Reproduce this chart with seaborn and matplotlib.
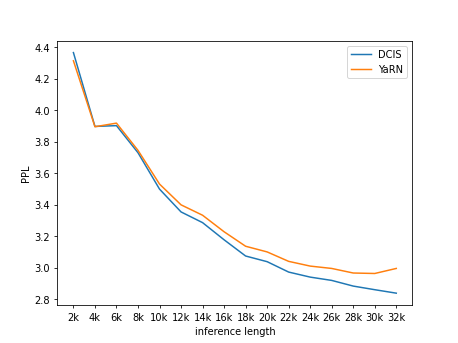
import pandas as pd
import matplotlib
matplotlib.use("Agg")
import matplotlib.pyplot as plt
import seaborn as sns

lengths = ["2k", "4k", "6k", "8k", "10k", "12k", "14k", "16k",
           "18k", "20k", "22k", "24k", "26k", "28k", "30k", "32k"]
dcis = [4.366, 3.897, 3.902, 3.730, 3.499, 3.354, 3.286, 3.177,
        3.074, 3.038, 2.972, 2.940, 2.919, 2.883, 2.860, 2.838]
yarn = [4.314, 3.895, 3.918, 3.745, 3.531, 3.399, 3.333, 3.228,
        3.136, 3.100, 3.040, 3.010, 2.995, 2.966, 2.963, 2.995]

df = pd.DataFrame({
    "length": lengths * 2,
    "ppl": dcis + yarn,
    "method": ["DCIS"] * len(lengths) + ["YaRN"] * len(lengths),
})

fig, ax = plt.subplots(figsize=(6.4, 4.8), dpi=71.6)
sns.lineplot(data=df, x="length", y="ppl", hue="method", sort=False,
             palette=["#1f77b4", "#ff7f0e"], linewidth=1.5, ax=ax)
handles, labels = ax.get_legend_handles_labels()
ax.legend(handles, labels, loc="upper right")
ax.set_xlabel("inference length")
ax.set_ylabel("PPL")
fig.savefig("out.png")
